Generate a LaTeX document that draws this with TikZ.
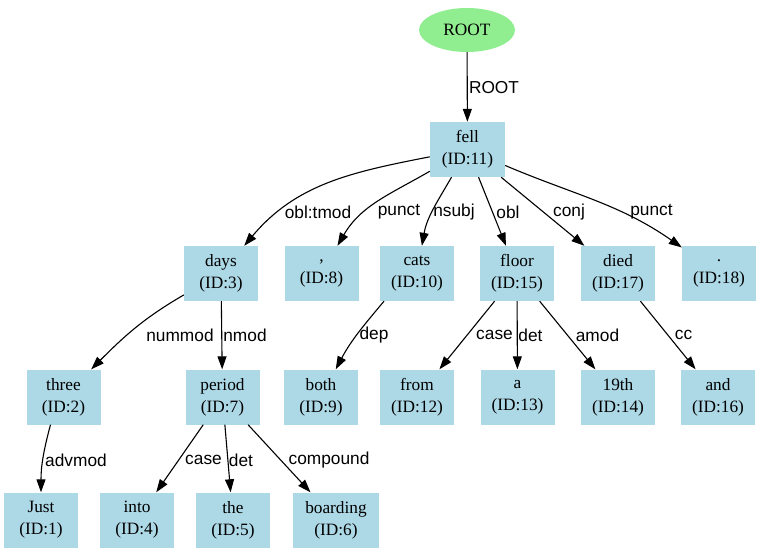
\documentclass[tikz,border=0pt]{standalone}
\usepackage{fontspec}
\setmainfont{Liberation Serif}
\newfontfamily\lblfont{Liberation Sans}
\usetikzlibrary{arrows.meta,shapes.geometric}
\definecolor{lblue}{HTML}{ADD8E6}
\definecolor{lgreen}{HTML}{90EE90}
\begin{document}
\begin{tikzpicture}[x=1pt,y=1pt,
  tok/.style={rectangle, fill=lblue, minimum width=74, minimum height=55, inner sep=0, align=center,
    font=\fontsize{17.3}{22}\selectfont},
  rootnode/.style={ellipse, fill=lgreen, minimum width=96, minimum height=44, inner sep=0,
    font=\fontsize{17.3}{22}\selectfont},
  lbl/.style={inner sep=0, font=\lblfont\fontsize{17.3}{20}\selectfont},
  edge/.style={draw=black, line width=1.1, -{Triangle[length=13,width=9]}}
]
\useasboundingbox (0,0) rectangle (762,-553);
% nodes
\node[rootnode] (root) at (467,-30) {ROOT};
\node[tok, minimum width=75] (fell) at (467.5,-149.5) {fell\\(ID:11)};
\node[tok] (days) at (221,-273.5) {days\\(ID:3)};
\node[tok] (comma) at (321.5,-273.5) {,\\(ID:8)};
\node[tok] (cats) at (417,-273.5) {cats\\(ID:10)};
\node[tok] (floor) at (517,-273.5) {floor\\(ID:15)};
\node[tok] (died) at (618,-273.5) {died\\(ID:17)};
\node[tok] (dot) at (719,-273.5) {.\\(ID:18)};
\node[tok] (three) at (63.5,-397) {three\\(ID:2)};
\node[tok] (period) at (222.5,-397) {period\\(ID:7)};
\node[tok] (both) at (321,-397) {both\\(ID:9)};
\node[tok] (from) at (417,-397) {from\\(ID:12)};
\node[tok] (a) at (517.5,-397) {a\\(ID:13)};
\node[tok] (nineteenth) at (618,-397) {19th\\(ID:14)};
\node[tok] (and) at (718,-397) {and\\(ID:16)};
\node[tok] (just) at (41,-520) {Just\\(ID:1)};
\node[tok] (into) at (137,-520) {into\\(ID:4)};
\node[tok] (the) at (233,-520) {the\\(ID:5)};
\node[tok, minimum width=86] (boarding) at (336,-520) {boarding\\(ID:6)};
% edges
\draw[edge] (root) -- (fell);
\draw[edge] (fell) to[out=191,in=50] (days);
\draw[edge] (fell) to[out=210,in=60] (comma);
\draw[edge] (fell) to[out=240,in=80] (cats);
\draw[edge] (fell) -- (floor);
\draw[edge] (fell) -- (died);
\draw[edge] (fell) to[out=-23,in=145] (dot);
\draw[edge] (days) to[out=210,in=45] (three);
\draw[edge] (days) -- (period);
\draw[edge] ([xshift=-33]cats.south) to[out=230,in=62] (both);
\draw[edge] (floor) -- (from);
\draw[edge] (floor) -- (a);
\draw[edge] (floor) -- (nineteenth);
\draw[edge] (died) -- (and);
\draw[edge] ([xshift=-13]three.south) to[out=255,in=90] (just);
\draw[edge] (period) -- (into);
\draw[edge] (period) -- (the);
\draw[edge] (period) -- (boarding);
% labels
\node[lbl] (lroot) at (494,-88) {ROOT};
\node[lbl] (l1) at (318,-212) {obl:tmod};
\node[lbl] (l2) at (399,-212) {punct};
\node[lbl] (l3) at (454,-212) {nsubj};
\node[lbl] (l4) at (508,-212) {obl};
\node[lbl] (l5) at (569,-212) {conj};
\node[lbl] (l6) at (651.5,-212) {punct};
\node[lbl] (l7) at (180,-335) {nummod};
\node[lbl] (l8) at (245,-335) {nmod};
\node[lbl] (l9) at (374,-335) {dep};
\node[lbl] (l10) at (494.5,-335) {case};
\node[lbl] (l11) at (530.5,-335) {det};
\node[lbl] (l12) at (597.5,-335) {amod};
\node[lbl] (l13) at (683.5,-335) {cc};
\node[lbl] (l14) at (76,-460) {advmod};
\node[lbl] (l15) at (203.5,-460) {case};
\node[lbl] (l16) at (241,-460) {det};
\node[lbl] (l17) at (329,-460) {compound};
\end{tikzpicture}
\end{document}
